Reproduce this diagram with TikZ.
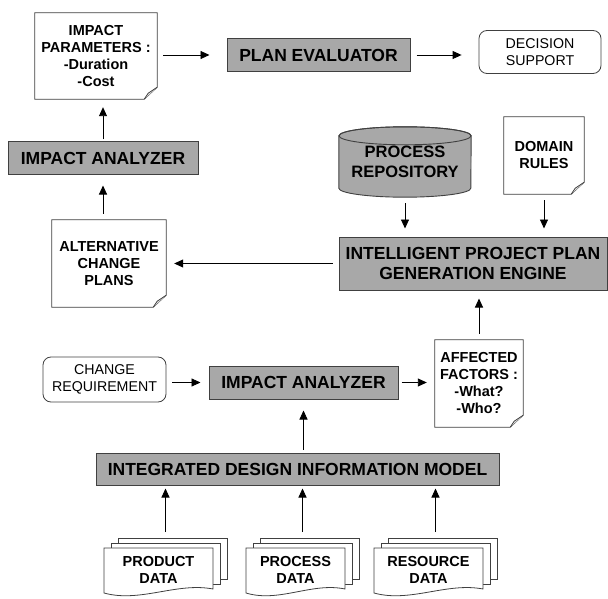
\documentclass[tikz,border=0pt]{standalone}
\usepackage{fontspec}
\setmainfont{Liberation Sans}
\usepackage{tikz}
\usetikzlibrary{calc,backgrounds}
\usetikzlibrary{arrows.meta}

\definecolor{boxgray}{RGB}{168,168,168}
\definecolor{linegray}{RGB}{64,64,64}
\definecolor{foldgray}{RGB}{225,225,225}

\tikzset{
  graybox/.style={draw=linegray, fill=boxgray, line width=1pt, align=center, inner sep=0pt,
    font=\bfseries\fontsize{17.5}{20}\selectfont},
  roundbox/.style={draw=linegray, rounded corners=8pt, line width=0.8pt, align=center, inner sep=0pt,
    font=\fontsize{14.2}{16.5}\selectfont},
  note/.style={align=center, inner sep=0pt, font=\bfseries\fontsize{14.5}{17}\selectfont},
  datatext/.style={align=center, inner sep=0pt, font=\bfseries\fontsize{14.5}{16.5}\selectfont},
  paper/.style={draw=linegray, fill=white, line width=0.8pt},
  flow/.style={-{Triangle[length=9pt,width=8pt]}, line width=0.9pt, shorten <=6pt, shorten >=8pt},
}

% outline of a note with a folded corner, drawn behind node #1
\newcommand\dogear[1]{%
  \begin{scope}[on background layer]
    \filldraw[paper] (#1.north west) -- (#1.north east) -- ([yshift=12pt]#1.south east)
      -- ([xshift=-13pt]#1.south east) -- (#1.south west) -- cycle;
    \filldraw[paper, fill=foldgray] ([yshift=12pt]#1.south east) -- ([shift={(-9pt,6pt)}]#1.south east)
      -- ([xshift=-13pt]#1.south east);
  \end{scope}}

% stack of three documents, #1 name, #2 centre of front sheet, #3 width, #4 text
\newcommand\datastack[4]{%
  \coordinate (#1 c) at (#2);
  \coordinate (#1 top) at ([shift={(7,32)}]#1 c);
  \filldraw[paper] ([shift={(14-#3/2,-9)}]#1 c) rectangle ++(#3,41);
  \filldraw[paper] ([shift={(7-#3/2,-14)}]#1 c) rectangle ++(#3,41);
  \filldraw[paper] ([shift={(-#3/2,22)}]#1 c) -- ++(#3,0) -- ++(0,-41)
    .. controls +(-#3/3,7) and +(#3/3,-10) .. ++(-#3,-4) -- cycle;
  \node[datatext] (#1) at (#1 c) {#4};}

\begin{document}
\begin{tikzpicture}[x=1pt,y=1pt]
	\useasboundingbox (0,0) rectangle (608,-599);
	% top part
	\node[note, minimum width=122pt, minimum height=86pt] (params) at (96,-56) {IMPACT\\PARAMETERS :\\-Duration\\-Cost};
	\dogear{params}
	\node[graybox, minimum width=183pt, minimum height=33pt] (evaluator) at (318.5,-55) {PLAN EVALUATOR};
	\node[roundbox, minimum width=122pt, minimum height=43pt] (support) at (540,-52) {DECISION\\SUPPORT};
	\node[graybox, minimum width=190pt, minimum height=33pt] (impactA) at (103,-158.5) {IMPACT ANALYZER};
	\node[note, minimum width=114pt, minimum height=87pt] (plans) at (109,-263.5) {ALTERNATIVE\\CHANGE\\PLANS};
	\dogear{plans}
	\node[note, font=\bfseries\fontsize{16.5}{20}\selectfont, minimum width=132pt, minimum height=70pt] (repository) at (405,-162) {PROCESS\\REPOSITORY};
	\begin{scope}[on background layer]
		\filldraw[draw=linegray, fill=boxgray, line width=0.9pt] ([yshift=-9pt]repository.north west) -- ([yshift=9pt]repository.south west)
		  arc[start angle=180, end angle=360, x radius=66pt, y radius=9pt] -- ([yshift=-9pt]repository.north east)
		  arc[start angle=0, end angle=180, x radius=66pt, y radius=9pt] -- cycle;
		\draw[draw=linegray, line width=0.9pt] ([yshift=-9pt]repository.north) ellipse[x radius=66pt, y radius=9pt];
	\end{scope}
	\node[note, minimum width=80pt, minimum height=77pt] (rules) at (544,-155.5) {DOMAIN\\RULES};
	\dogear{rules}
	\node[graybox, minimum width=268pt, minimum height=53pt] (engine) at (473,-263.5) {INTELLIGENT PROJECT PLAN\\GENERATION ENGINE};
	% bottom part
	\node[roundbox, minimum width=123pt, minimum height=45pt] (requirement) at (104.5,-379.5) {CHANGE\\REQUIREMENT};
	\node[graybox, minimum width=189pt, minimum height=33pt] (impactB) at (303.5,-382.5) {IMPACT ANALYZER};
	\node[note, minimum width=88pt, minimum height=87pt] (factors) at (479,-383.5) {AFFECTED\\FACTORS :\\-What?\\-Who?};
	\dogear{factors}
	\node[graybox, minimum width=403pt, minimum height=32pt] (model) at (297.5,-469) {INTEGRATED DESIGN INFORMATION MODEL};
	\datastack{product}{158.5,-570}{109}{PRODUCT\\DATA}
	\datastack{process}{295.5,-570}{99}{PROCESS\\DATA}
	\datastack{resource}{428.5,-570}{109}{RESOURCE\\DATA}
	% connectors
	\draw[flow, shorten >=17pt] (params.east |- evaluator.west) -- (evaluator.west);
	\draw[flow, shorten >=17pt] (evaluator.east) -- (evaluator.east -| support.west);
	\draw[flow, shorten <=2pt] (impactA.north) -- (impactA.north |- params.south);
	\draw[flow, shorten >=10pt] (plans.north -| impactA.south) -- (impactA.south);
	\draw[flow] (engine.west) -- (plans.east);
	\draw[flow] (repository.south) -- (repository.south |- engine.north);
	\draw[flow] (rules.south) -- (rules.south |- engine.north);
	\draw[flow] (factors.north) -- (factors.north |- engine.south);
	\draw[flow] (requirement.east |- impactB.west) -- (impactB.west);
	\draw[flow, shorten <=3pt] (impactB.east) -- (impactB.east -| factors.west);
	\draw[flow, shorten <=3pt, shorten >=11pt] (impactB.south |- model.north) -- (impactB.south);
	\foreach \d in {product,process,resource}
		\draw[flow, shorten >=3pt] (\d\space top) -- (\d\space top |- model.south);
\end{tikzpicture}
\end{document}
